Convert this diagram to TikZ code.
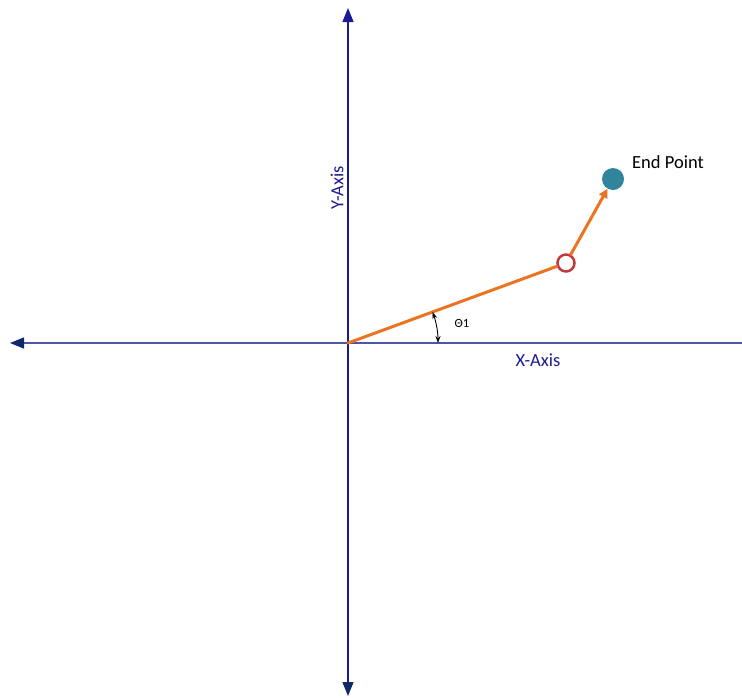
\documentclass[tikz,border=0pt]{standalone}
\usepackage{fontspec}
\setmainfont{Carlito}
\usetikzlibrary{arrows.meta,positioning}
\definecolor{axBlue}{HTML}{4F55A8}
\definecolor{axNavy}{HTML}{10286A}
\definecolor{axDeep}{HTML}{1A1A96}
\definecolor{armOrange}{HTML}{EB7322}
\definecolor{jointRed}{HTML}{C0393B}
\definecolor{endTeal}{HTML}{31849B}
\tikzset{
  >={Triangle[length=14pt,width=11pt]},
  haxis/.style={draw=axBlue, line width=1.4pt, -{Triangle[length=14pt,width=11pt,color=axNavy]}},
  vaxis/.style={draw=axDeep, line width=1.4pt,
                {Triangle[length=14pt,width=11pt,color=axNavy]}-{Triangle[length=14pt,width=11pt,color=axDeep]}},
  link/.style={draw=armOrange, line width=3pt, line cap=round},
  joint/.style={circle, draw=jointRed, line width=2.5pt, fill=white,
                minimum size=17pt, inner sep=0pt},
  endpt/.style={circle, fill=endTeal, minimum size=22pt, inner sep=0pt},
  axlbl/.style={font=\fontsize{18.5}{22}\selectfont, text=axDeep},
  lbl/.style={font=\fontsize{18.5}{22}\selectfont, text=black},
  anglbl/.style={font=\fontsize{12.5}{14}\selectfont, text=black},
}
\begin{document}
\begin{tikzpicture}[x=1pt,y=-1pt]
  \useasboundingbox (0,0) rectangle (742,697);
  % axes
  \coordinate (xr) at (742,343);
  \coordinate (xl) at (10,343);
  \coordinate (yb) at (348,696);
  \coordinate (yt) at (348,8);
  \coordinate (org) at (348,343);
  \draw[haxis] (xr) -- (xl);
  \draw[vaxis] (yb) -- (yt);
  \node[axlbl,rotate=90] (ylab) at (337,188) {Y-Axis};
  \node[axlbl] (xlab) at (538,360) {X-Axis};
  % arm
  \node[joint] (jnt) at (566,263) {};
  \node[endpt] (tip) at (613,179) {};
  \draw[link] (org) -- (jnt);
  \draw[link,-{Triangle[length=9pt,width=9pt]}] (jnt) -- (tip);
  \node[lbl] (tiplab) at (668,162) {End Point};
  % angle
  \draw[black,line width=0.9pt,{Stealth[length=7pt,width=5pt]}-{Stealth[length=7pt,width=5pt]}]
        (org) ++(0:90) arc[start angle=0,end angle=-20.15,radius=90];
  \node[anglbl] (th) at (462,323) {Θ1};
\end{tikzpicture}
\end{document}
